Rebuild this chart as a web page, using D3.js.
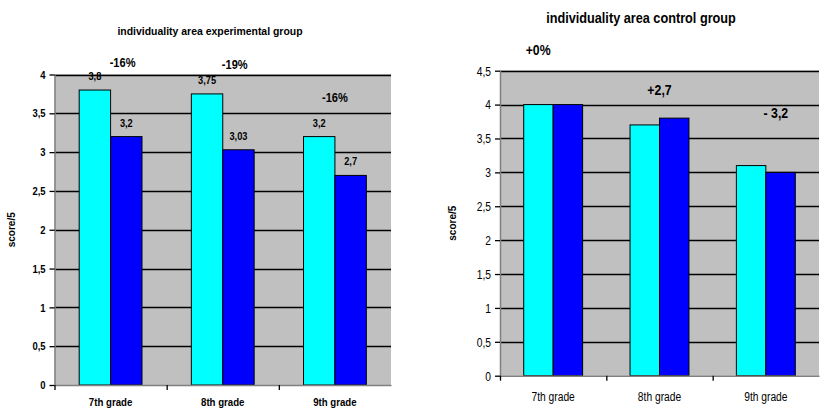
<!DOCTYPE html>
<html>
<head>
<meta charset="utf-8">
<script src="https://cdn.jsdelivr.net/npm/d3@7"></script>
<style>
  html, body { margin: 0; padding: 0; background: #fff; }
  svg { display: block; }
  text { font-family: "Liberation Sans", Arial, sans-serif; }
</style>
</head>
<body>
<svg id="chart" width="820" height="410"></svg>
<script>
// ---- data ----
const categories = ["7th grade", "8th grade", "9th grade"];

const expTitle = "individuality area experimental group";
const expBefore = [3.8, 3.75, 3.2];
const expAfter = [3.2, 3.03, 2.7];
const expBeforeLabels = ["3,8", "3,75", "3,2"];
const expAfterLabels = ["3,2", "3,03", "2,7"];
const expChangeLabels = ["-16%", "-19%", "-16%"];
const expChangeValues = [4.15, 4.13, 3.7];   // vertical placement of change labels (in score units)
const expTicks = [0, 0.5, 1, 1.5, 2, 2.5, 3, 3.5, 4];
const expTickLabels = ["0", "0,5", "1", "1,5", "2", "2,5", "3", "3,5", "4"];

const ctlTitle = "individuality area control group";
const ctlBefore = [4, 3.7, 3.1];
const ctlAfter = [4, 3.8, 3.0];
const ctlChangeLabels = ["+0%", "+2,7", "- 3,2"];
const ctlChangeValues = [4.8, 4.22, 3.88];
const ctlTicks = [0, 0.5, 1, 1.5, 2, 2.5, 3, 3.5, 4, 4.5];
const ctlTickLabels = ["0", "0,5", "1", "1,5", "2", "2,5", "3", "3,5", "4", "4,5"];

const yTitle = "score/5";

const svg = d3.select("#chart");

// place a text at (x,y) horizontally condensed by sx (mimics a narrow typeface)
function placeText(sel, xf, yf, sx) {
  sel.attr("x", 0).attr("y", 0)
    .attr("transform", (d, i) => `translate(${xf(d, i)},${yf(d, i)}) scale(${sx},1)`);
}

function drawChart(o) {
  const g = svg.append("g");
  const x = d3.scaleBand().domain(categories).range([o.left, o.right]);
  const y = d3.scaleLinear().domain([0, o.yMax]).range([o.bottom, o.top]);
  const bw = x.bandwidth() * o.barFrac;
  const groupW = bw * 2;

  // plot background
  g.append("rect")
    .attr("x", o.left).attr("y", o.top)
    .attr("width", o.right - o.left).attr("height", o.bottom - o.top)
    .attr("fill", "#c0c0c0");
  g.append("line")
    .attr("x1", o.left).attr("x2", o.right)
    .attr("y1", o.top + 0.5).attr("y2", o.top + 0.5)
    .attr("stroke", "#9a9a9a").attr("stroke-width", 1);

  // gridlines
  g.selectAll(".grid").data(o.ticks.filter(t => t > 0)).enter().append("line")
    .attr("x1", o.left).attr("x2", o.right)
    .attr("y1", d => Math.round(y(d)) + 0.5).attr("y2", d => Math.round(y(d)) + 0.5)
    .attr("stroke", "#000").attr("stroke-width", 1.3);

  // bars
  g.selectAll(".b1").data(categories).enter().append("rect")
    .attr("x", (d) => x(d) + x.bandwidth() / 2 - groupW / 2)
    .attr("y", (d, i) => y(o.before[i]))
    .attr("width", bw)
    .attr("height", (d, i) => y(0) - y(o.before[i]))
    .attr("fill", "#00ffff").attr("stroke", "#000").attr("stroke-width", 1);
  g.selectAll(".b2").data(categories).enter().append("rect")
    .attr("x", (d) => x(d) + x.bandwidth() / 2 - groupW / 2 + bw)
    .attr("y", (d, i) => y(o.after[i]))
    .attr("width", bw)
    .attr("height", (d, i) => y(0) - y(o.after[i]))
    .attr("fill", "#0000ff").attr("stroke", "#000").attr("stroke-width", 1);

  // y axis
  const yAxis = d3.axisLeft(y).tickValues(o.ticks)
    .tickFormat((d, i) => o.tickLabels[i]).tickSize(5).tickPadding(5);
  const ya = g.append("g").attr("transform", `translate(${o.left},0)`).call(yAxis);
  ya.select(".domain").attr("stroke", "#808080").attr("stroke-width", 1.5)
    .attr("d", `M0.5,${o.top}V${o.bottom}`);
  ya.selectAll(".tick line").attr("stroke", "#000").attr("stroke-width", 1.3);
  ya.selectAll(".tick text")
    .attr("font-size", o.tickFontSize).attr("font-weight", o.tickWeight).attr("fill", "#000")
    .attr("dy", null).attr("dominant-baseline", "central")
    .call(placeText, () => -9, () => 0, o.tickSx);

  // x axis
  const xa = g.append("g").attr("transform", `translate(0,${o.bottom})`)
    .call(d3.axisBottom(x).tickSize(0).tickPadding(o.xPad));
  xa.select(".domain").attr("stroke", "#808080").attr("stroke-width", 1.5);
  xa.selectAll(".tick text")
    .attr("font-size", o.xFontSize).attr("font-weight", o.xWeight).attr("fill", "#000")
    .attr("dy", null).attr("dominant-baseline", "central")
    .call(placeText, () => 0, () => o.xPad, o.xSx);
  g.selectAll(".xsep").data(categories).enter().append("line")
    .attr("x1", d => x(d) + 0.5).attr("x2", d => x(d) + 0.5)
    .attr("y1", o.bottom).attr("y2", o.bottom + 5)
    .attr("stroke", "#000").attr("stroke-width", 1.3);

  // value labels
  if (o.beforeLabels) {
    g.selectAll(".l1").data(categories).enter().append("text")
      .attr("text-anchor", "middle").attr("font-size", 10.5).attr("font-weight", "bold")
      .text((d, i) => o.beforeLabels[i])
      .call(placeText, d => x(d) + x.bandwidth() / 2 - groupW / 2 + bw / 2,
            (d, i) => y(o.before[i]) - 10, 0.88);
    g.selectAll(".l2").data(categories).enter().append("text")
      .attr("text-anchor", "middle").attr("font-size", 10.5).attr("font-weight", "bold")
      .text((d, i) => o.afterLabels[i])
      .call(placeText, d => x(d) + x.bandwidth() / 2 - groupW / 2 + bw * 1.5,
            (d, i) => y(o.after[i]) - 10, 0.88);
  }
  // change labels
  g.selectAll(".ch").data(categories).enter().append("text")
    .attr("text-anchor", "middle").attr("dominant-baseline", "central")
    .attr("font-size", o.changeFontSize).attr("font-weight", "bold")
    .text((d, i) => o.changeLabels[i])
    .call(placeText, (d, i) => x(d) + x.bandwidth() / 2 + o.changeDx[i],
          (d, i) => y(o.changeValues[i]), 0.82);

  // title
  g.append("text")
    .attr("text-anchor", "middle").attr("font-size", o.titleSize).attr("font-weight", "bold")
    .text(o.title)
    .call(placeText, () => o.titleX, () => o.titleY, o.titleSx);

  // y title
  g.append("text")
    .attr("transform", `translate(${o.yTitleX},${(o.top + o.bottom) / 2}) rotate(-90)`)
    .attr("text-anchor", "middle").attr("font-size", 10).attr("font-weight", "bold")
    .text(yTitle);
}

drawChart({
  left: 54.5, right: 391, top: 74.5, bottom: 385, yMax: 4, barFrac: 0.28,
  before: expBefore, after: expAfter,
  beforeLabels: expBeforeLabels, afterLabels: expAfterLabels,
  changeLabels: expChangeLabels, changeValues: expChangeValues, changeDx: [12, 12, 0],
  changeFontSize: 13.5,
  ticks: expTicks, tickLabels: expTickLabels, tickFontSize: 10.5, tickWeight: "bold", tickSx: 0.9,
  xFontSize: 10.5, xWeight: "bold", xSx: 0.92, xPad: 17,
  title: expTitle, titleX: 210, titleY: 35, titleSize: 11, titleSx: 0.95,
  yTitleX: 15
});

drawChart({
  left: 500, right: 819, top: 70.7, bottom: 375.7, yMax: 4.5, barFrac: 0.277,
  before: ctlBefore, after: ctlAfter,
  beforeLabels: null, afterLabels: null,
  changeLabels: ctlChangeLabels, changeValues: ctlChangeValues, changeDx: [-15, 0, 10],
  changeFontSize: 15,
  ticks: ctlTicks, tickLabels: ctlTickLabels, tickFontSize: 12.5, tickWeight: "normal", tickSx: 0.82,
  xFontSize: 12.5, xWeight: "normal", xSx: 0.82, xPad: 21,
  title: ctlTitle, titleX: 641, titleY: 23, titleSize: 15.5, titleSx: 0.82,
  yTitleX: 456
});
</script>
</body>
</html>
